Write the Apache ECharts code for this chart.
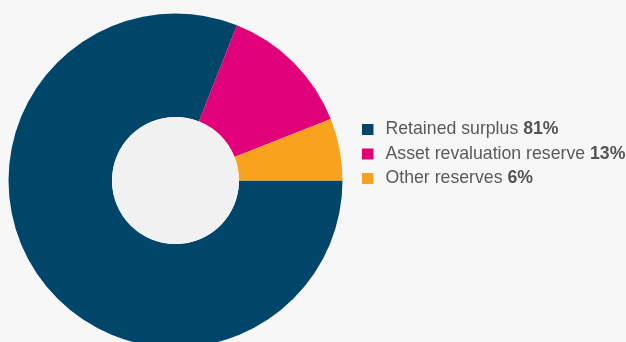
<!DOCTYPE html>
<html>
<head>
<meta charset="utf-8">
<script src="https://cdn.jsdelivr.net/npm/echarts@6/dist/echarts.min.js"></script>
<style>
  html, body { margin: 0; padding: 0; background: #f7f7f7; }
  #chart { width: 626px; height: 342px; }
</style>
</head>
<body>
<div id="chart"></div>
<script>
// Reserve composition (percent of total reserves)
const categories = ['Retained surplus', 'Asset revaluation reserve', 'Other reserves'];
const shares = [81, 13, 6];
const colors = ['#00466b', '#e2007a', '#f9a21e'];

const pieData = categories.map((name, i) => ({
  name: name,
  value: shares[i],
  itemStyle: { color: colors[i] }
}));

const FONT = '"Liberation Sans", Arial, sans-serif';
const chart = echarts.init(document.getElementById('chart'), null, { renderer: 'canvas' });

chart.setOption({
  backgroundColor: '#f7f7f7',
  animation: false,
  legend: {
    orient: 'vertical',
    left: 362,
    top: 119.5,
    padding: 0,
    itemWidth: 11.5,
    itemHeight: 11,
    itemGap: 4.5,
    icon: 'rect',
    selectedMode: false,
    data: categories,
    formatter: function (name) {
      const i = categories.indexOf(name);
      return '{n|' + name + '} {b|' + shares[i] + '%}';
    },
    textStyle: {
      fontFamily: FONT,
      fontSize: 17.7,
      color: '#5a5a5a',
      lineHeight: 20,
      rich: {
        n: {
          fontFamily: FONT,
          fontSize: 17.7,
          color: '#5a5a5a',
          padding: [0, 0, 0, 7],
          lineHeight: 20
        },
        b: {
          fontFamily: FONT,
          fontSize: 17.7,
          fontWeight: 'bold',
          color: '#555555',
          lineHeight: 20
        }
      }
    }
  },
  series: [
    {
      type: 'pie',
      center: [175.5, 180.5],
      radius: [63.5, 167],
      startAngle: 0,
      clockwise: true,
      label: { show: false },
      labelLine: { show: false },
      silent: true,
      itemStyle: { borderWidth: 0 },
      data: pieData
    },
    {
      // light disc filling the hole of the donut
      type: 'pie',
      center: [175.5, 180.5],
      radius: [0, 63.5],
      silent: true,
      label: { show: false },
      labelLine: { show: false },
      itemStyle: { color: '#f1f1f1', borderWidth: 0 },
      data: [{ name: 'hole', value: 1 }]
    }
  ]
});
</script>
</body>
</html>
